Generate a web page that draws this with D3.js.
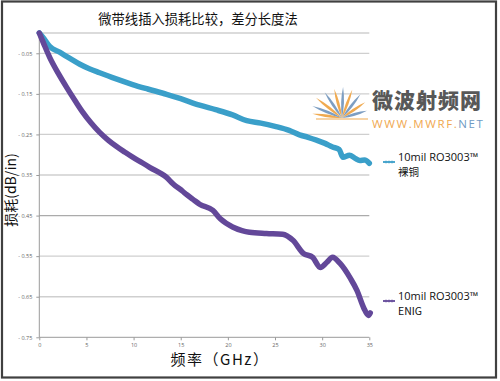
<!DOCTYPE html>
<html><head><meta charset="utf-8">
<script src="https://cdn.jsdelivr.net/npm/d3@7"></script>
<style>
html,body{margin:0;padding:0;background:#fff;}
svg{display:block;}
</style></head>
<body>
<svg id="c" width="500" height="381"></svg>
<script>
const title = "微带线插入损耗比较，差分长度法";
const xLabel = "频率（GHz）";
const yLabel = "损耗(dB/in)";
const xTicks = [0, 5, 10, 15, 20, 25, 30, 35];
const yTicks = [-0.05, -0.15, -0.25, -0.35, -0.45, -0.55, -0.65, -0.75];
const yTickLabels = ["- 0.05", "- 0.15", "- 0.25", "- 0.35", "- 0.45", "- 0.55", "- 0.65", "- 0.75"];
const gridValues = [0, -0.05, -0.15, -0.25, -0.35, -0.45, -0.55, -0.65];

const bareFreq = [0, 0.5, 1.1, 2.2, 3.2, 4.3, 5.3, 6.4, 8, 9.9, 11.5, 13.5, 15, 17, 18.7, 20.5, 22, 23.5, 25, 26.5, 27.6, 28.5, 29.4, 30.3, 31.1, 31.8, 32.2, 32.9, 33.5, 34, 34.5, 35];
const bareLoss = [0, -0.014, -0.033, -0.048, -0.062, -0.077, -0.088, -0.098, -0.112, -0.127, -0.138, -0.151, -0.162, -0.178, -0.189, -0.202, -0.216, -0.222, -0.23, -0.24, -0.251, -0.257, -0.264, -0.272, -0.281, -0.287, -0.306, -0.301, -0.309, -0.314, -0.313, -0.321];

const enigFreq = [0, 0.5, 1.1, 2, 2.9, 3.8, 4.6, 5.5, 6.4, 7.3, 8.2, 9.1, 9.9, 11, 11.7, 13.5, 14.2, 15.2, 15.6, 16.3, 17, 18.4, 19.2, 20.5, 21.5, 22.3, 24.1, 25.8, 26.9, 28, 29, 29.8, 30.5, 31.1, 31.9, 33, 33.7, 34.4, 34.9, 35.1];
const enigLoss = [0, -0.028, -0.06, -0.099, -0.134, -0.167, -0.195, -0.222, -0.245, -0.264, -0.28, -0.294, -0.306, -0.321, -0.331, -0.356, -0.372, -0.39, -0.398, -0.41, -0.422, -0.437, -0.458, -0.478, -0.487, -0.491, -0.494, -0.496, -0.511, -0.543, -0.553, -0.578, -0.565, -0.553, -0.568, -0.605, -0.635, -0.677, -0.696, -0.69];

const seriesNames = ["10mil RO3003™", "10mil RO3003™"];
const seriesSub = ["裸铜", "ENIG"];
const seriesColors = ["#3a9fc9", "#634899"];

const svg = d3.select("#c");
const cjk = "'Noto Sans CJK SC','Noto Sans',sans-serif";
const lat = "'Open Sans','Noto Sans',sans-serif";

const x = d3.scaleLinear().domain([0, 35]).range([39.3, 369.3]);
const y = d3.scaleLinear().domain([0, -0.75]).range([33, 337.3]);

// frame
svg.append("rect").attr("x", 2).attr("y", 1.5).attr("width", 494).attr("height", 376)
  .attr("fill", "#fff").attr("stroke", "#404040").attr("stroke-width", 2.2);

// gridlines
svg.append("g").selectAll("line").data(gridValues).join("line")
  .attr("x1", x(0)).attr("x2", x(35))
  .attr("y1", d => y(d)).attr("y2", d => y(d))
  .attr("stroke", d => d === -0.45 ? "#ababab" : "#cfcfcf")
  .attr("stroke-width", 1.3);

// axes
const yAxis = d3.axisLeft(y).tickValues(yTicks).tickSize(3).tickFormat((d, i) => yTickLabels[i]);
const gy = svg.append("g").attr("transform", `translate(${x(0)},0)`).call(yAxis);
gy.select(".domain").attr("stroke", "#9a9a9a").attr("d", `M0,${y(0)}V${y(-0.75)}`);
gy.selectAll(".tick line").attr("stroke", "#9a9a9a");
gy.selectAll(".tick text").attr("font-family", lat).attr("font-size", 5.5).attr("fill", "#666").attr("dx", -1);

const xAxis = d3.axisBottom(x).tickValues(xTicks).tickSize(3).tickFormat(d3.format("d"));
const gx = svg.append("g").attr("transform", `translate(0,${y(-0.75)})`).call(xAxis);
gx.select(".domain").attr("stroke", "#9a9a9a").attr("d", `M${x(0)},0H${x(35)}`);
gx.selectAll(".tick line").attr("stroke", "#9a9a9a");
gx.selectAll(".tick text").attr("font-family", lat).attr("font-size", 5.5).attr("fill", "#666").attr("dy", 4);

// "0" at top of y axis
svg.append("text").attr("x", x(0)).attr("y", y(0) + 8).attr("font-family", lat)
  .attr("font-size", 6).attr("fill", "#555").text("0");

// logo watermark
const logo = svg.append("g");
const cx = 342, cy = 118;
const rays = [
  {a: -172, l: 30, c: "#f0aa50"}, {a: -158, l: 32, c: "#7d9ec2"}, {a: -142, l: 33, c: "#f0aa50"},
  {a: -124, l: 31, c: "#7d9ec2"}, {a: -105, l: 30, c: "#f0aa50"}, {a: -88, l: 31, c: "#7d9ec2"},
  {a: -70, l: 30, c: "#f0aa50"}, {a: -52, l: 30, c: "#7d9ec2"}, {a: -34, l: 28, c: "#f0aa50"},
  {a: -16, l: 26, c: "#7d9ec2"}
];
rays.forEach(r => {
  const L = r.l;
  logo.append("path")
    .attr("d", `M0,0 Q${L*0.5},-2.8 ${L},0 Q${L*0.5},2.8 0,0Z`)
    .attr("fill", r.c)
    .attr("transform", `translate(${cx},${cy}) rotate(${r.a})`);
});
logo.append("line").attr("x1", 316).attr("x2", 368).attr("y1", 119).attr("y2", 119)
  .attr("stroke", "#f0aa50").attr("stroke-width", 1.2);
logo.append("text").attr("x", 372).attr("y", 108).attr("font-family", cjk).attr("font-weight", "900")
  .attr("font-size", 21).attr("fill", "#585858").attr("letter-spacing", 1).text("微波射频网");
const url = logo.append("text").attr("x", 372).attr("y", 128).attr("font-family", lat)
  .attr("font-size", 11.5).attr("letter-spacing", 1.6);
url.append("tspan").attr("fill", "#f0a850").text("WWW.MWRF.");
url.append("tspan").attr("fill", "#6f9bc4").text("NET");

// series
const line = d3.line().x(d => x(d[0])).y(d => y(d[1])).curve(d3.curveMonotoneX);
const series = [
  d3.zip(bareFreq, bareLoss),
  d3.zip(enigFreq, enigLoss)
];
series.forEach((s, i) => {
  svg.append("path").datum(s).attr("d", line).attr("fill", "none")
    .attr("stroke", seriesColors[i]).attr("stroke-width", 5.5)
    .attr("stroke-linejoin", "round").attr("stroke-linecap", "round");
});

// legend
const legY = [162, 301];
legY.forEach((ly, i) => {
  const g = svg.append("g");
  g.append("line").attr("x1", 383).attr("x2", 395).attr("y1", ly).attr("y2", ly)
    .attr("stroke", seriesColors[i]).attr("stroke-width", 1.8);
  [386, 389, 392].forEach(px => g.append("line").attr("x1", px).attr("x2", px)
    .attr("y1", ly - 1.5).attr("y2", ly + 1.5).attr("stroke", seriesColors[i]).attr("stroke-width", 0.7));
  g.append("text").attr("x", 398).attr("y", ly - 1).attr("font-family", lat).attr("font-size", 11)
    .attr("fill", "#111").text(seriesNames[i]);
  g.append("text").attr("x", 398).attr("y", ly + 14).attr("font-family", cjk).attr("font-size", 10.5)
    .attr("fill", "#111").text(seriesSub[i]);
});

// title & labels
svg.append("text").attr("x", 198).attr("y", 24).attr("text-anchor", "middle")
  .attr("font-family", cjk).attr("font-size", 13.3).attr("fill", "#111").text(title);
svg.append("text").attr("x", 220).attr("y", 365).attr("text-anchor", "middle")
  .attr("font-family", cjk).attr("font-size", 15).attr("letter-spacing", 1.5).attr("fill", "#111").text(xLabel);
svg.append("text").attr("transform", "translate(16,190) rotate(-90)").attr("text-anchor", "middle")
  .attr("font-family", cjk).attr("font-size", 14).attr("fill", "#111").text(yLabel);
</script>
</body></html>
